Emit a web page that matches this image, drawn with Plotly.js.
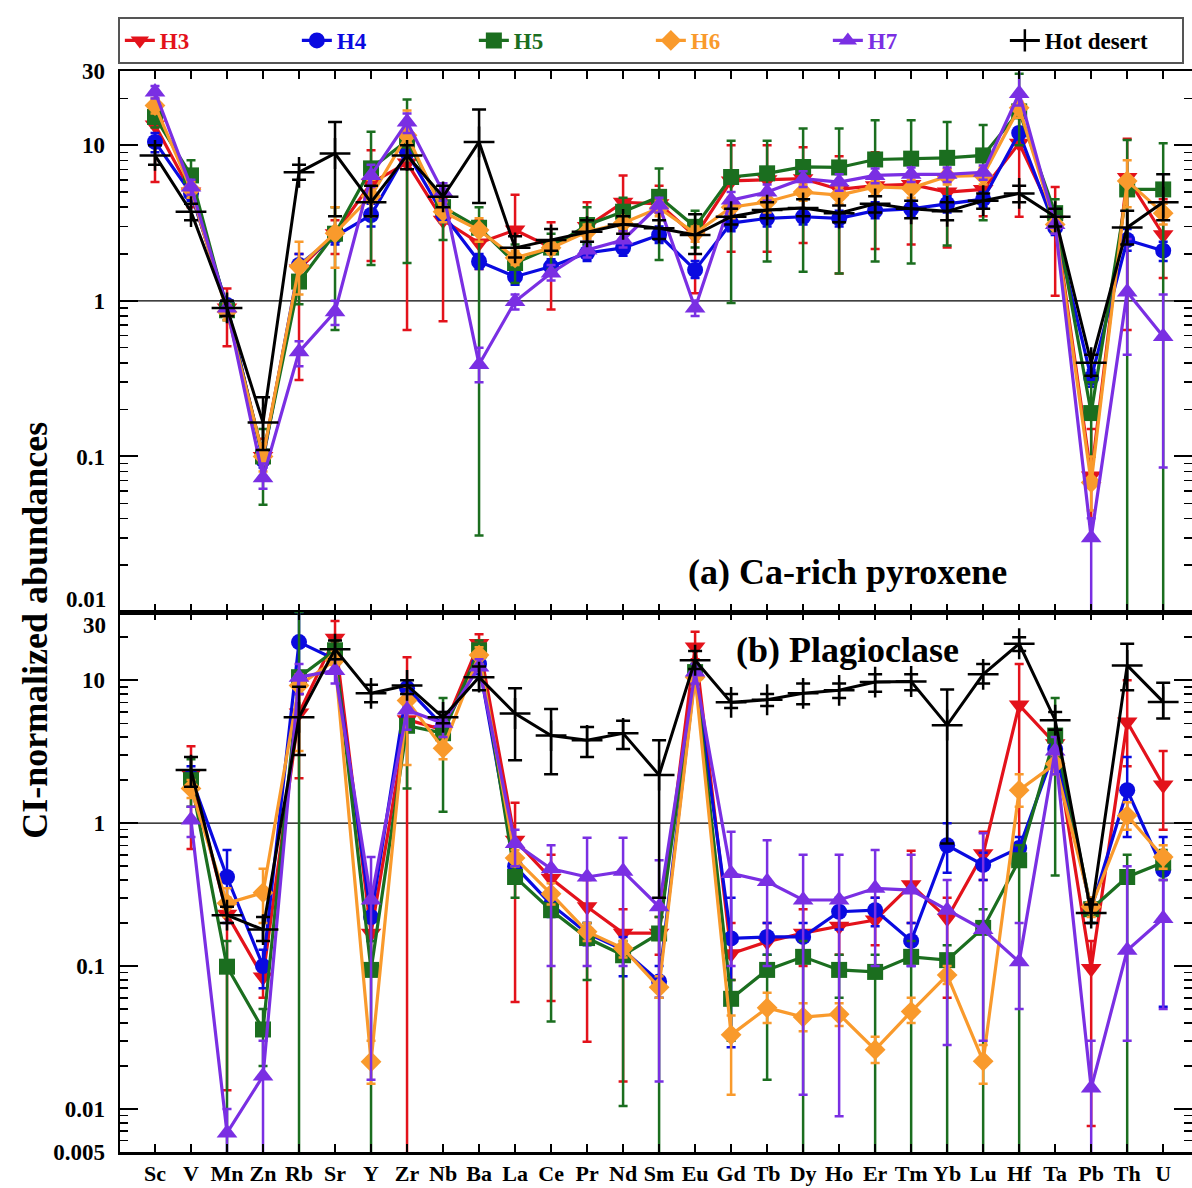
<!DOCTYPE html>
<html><head><meta charset="utf-8">
<script src="https://cdn.plot.ly/plotly-3.0.1.min.js"></script>
<style>html,body{margin:0;padding:0;background:#fff;overflow:hidden}</style>
</head><body><div id="chart" style="width:1192px;height:1188px"></div>
<script>
const categories = ['Sc','V','Mn','Zn','Rb','Sr','Y','Zr','Nb','Ba','La','Ce','Pr','Nd','Sm','Eu','Gd','Tb','Dy','Ho','Er','Tm','Yb','Lu','Hf','Ta','Pb','Th','U'];
const seriesNames = ['H3','H4','H5','H6','H7','Hot desert'];
const seriesColors = ['#e3121b','#0a0ae0','#1b6e1f','#f99a2c','#7a2fe3','#000000'];
const seriesSymbols = ['triangle-down','circle','square','diamond','triangle-up','cross-thin'];

// (a) Ca-rich pyroxene
const aH3   = [13.5,5.0,0.9,0.1,1.6,2.7,5.7,7.7,3.3,2.35,2.85,2.2,3.0,4.3,4.2,2.6,5.9,6.0,6.1,5.2,5.5,5.6,5.0,5.2,10.3,3.3,0.075,6.2,2.66];
const aH3hi = [16,6,1.2,0.13,2.0,3.3,9.3,10,4.5,3.3,4.8,3.2,4.3,6.4,5.5,3.3,10,10,9.7,8.5,9,9,8,7,16,5.4,0.15,11,4.5];
const aH3lo = [5.8,4,0.51,0.07,0.31,2.0,1.8,0.65,0.74,1.6,1.7,0.88,2.0,2.8,2.9,1.12,2.07,2.07,2.35,1.5,2.15,2.3,2.2,3.5,3.47,1.08,0.03,0.65,1.4];
const aH4   = [10.5,4.9,0.94,0.095,1.7,2.6,3.56,9.0,3.6,1.79,1.43,1.66,2.03,2.19,2.65,1.58,3.16,3.39,3.47,3.39,3.8,3.9,4.2,4.5,12.0,2.96,0.32,2.46,2.1];
const aH4hi = [12,5.5,1.0,0.11,2.0,2.9,4.2,10,4.0,2.0,1.6,1.85,2.3,2.5,3.0,1.8,3.6,3.8,3.9,3.8,4.3,4.4,4.7,5.0,13,3.3,0.36,2.9,2.4];
const aH4lo = [9,4.4,0.88,0.085,1.4,2.3,3.0,8,3.2,1.6,1.27,1.48,1.8,1.95,2.35,1.4,2.8,3.0,3.1,3.0,3.4,3.5,3.7,4.0,11,2.65,0.28,2.1,1.8];
const aH5   = [15.2,6.4,0.87,0.1,1.33,2.7,7.1,10.7,4.0,2.95,1.75,2.2,3.07,3.74,4.66,2.99,6.25,6.6,7.25,7.2,8.1,8.2,8.3,8.6,16.5,3.66,0.19,5.2,5.2];
const aH5hi = [17,8.0,1.0,0.15,1.8,4.0,12.2,19.7,5.0,4.0,2.3,2.7,4.0,4.6,7.1,3.8,10.7,10.7,12.8,12.8,14.5,14.5,14.1,13.5,28.8,4.5,0.3,10.8,10.3];
const aH5lo = [13,5.0,0.75,0.049,0.95,0.65,1.7,1.75,2.46,0.031,1.3,1.6,2.3,2.9,1.83,2.2,0.97,1.79,1.54,1.5,1.79,1.74,2.27,3.3,10,2.8,0.1,0.0001,0.0001];
const aH6   = [18.0,5.2,0.85,0.1,1.66,2.72,4.7,11.6,3.74,2.85,1.89,2.19,2.78,3.16,3.95,2.72,4.0,4.33,5.0,4.78,5.4,5.3,6.3,6.4,17.4,3.1,0.068,5.9,3.66];
const aH6hi = [20,5.8,0.95,0.12,2.4,4.0,6.0,16.7,4.3,3.4,2.1,2.4,3.1,3.5,4.4,3.0,4.6,5.0,5.6,5.4,6.0,6.0,7.0,7.2,19,3.5,0.1,8,4.2];
const aH6lo = [16,4.6,0.75,0.08,1.1,1.63,3.5,8,3.2,2.4,1.7,2.0,2.5,2.8,3.5,2.4,3.4,3.7,4.4,4.2,4.8,4.6,5.6,5.6,15,2.7,0.045,4,3.1];
const aH7   = [22,5.4,0.9,0.073,0.47,0.85,6.4,14.1,5.0,0.39,0.99,1.51,2.12,2.46,4.13,0.9,4.44,5.0,6.1,5.8,6.4,6.5,6.5,6.7,21.5,3.1,0.030,1.14,0.59];
const aH7hi = [24,6,1.0,0.09,0.55,1.0,7.5,16,5.7,0.5,1.1,1.7,2.4,2.8,4.6,1.0,5.0,5.6,6.8,6.5,7.1,7.2,7.2,7.4,32,3.5,0.04,2.5,1.1];
const aH7lo = [20,4.8,0.8,0.062,0.38,0.7,5.4,12,4.4,0.3,0.88,1.35,1.9,2.2,3.7,0.8,3.9,4.4,5.4,5.1,5.7,5.8,5.8,6.0,18,2.7,0.0001,0.45,0.085];
const aHD   = [8.6,3.74,0.9,0.165,6.7,8.85,4.3,8.6,4.66,10.5,2.19,2.46,2.78,3.1,2.93,2.65,3.47,3.83,3.95,3.66,4.2,3.9,3.76,4.4,4.9,3.47,0.40,2.96,4.3];
const aHDhi = [10,4.2,1.0,0.24,7.5,14.1,5.5,10,5.5,17,2.6,2.9,3.3,3.5,3.3,3.6,3.9,4.3,4.5,4.1,4.7,4.4,4.3,4.9,5.5,3.9,0.45,3.8,6.5];
const aHDlo = [7.5,3.3,0.8,0.11,6.0,3.5,3.5,7,4.0,4.25,1.9,2.1,2.4,2.7,2.5,2.0,3.1,3.4,3.5,3.2,3.7,3.4,3.3,3.9,4.3,3.0,0.33,2.3,3.3];

// (b) Plagioclase
const bH3   = [null,2.2,0.23,0.084,5.9,19.7,0.17,5.3,4.5,18.1,0.76,0.41,0.26,0.17,0.17,17.1,0.122,0.148,0.17,0.19,0.21,0.37,0.216,0.61,6.7,3.6,0.096,5.1,1.85];
const bH3hi = [null,3.45,0.3,0.1,8,26,0.25,14.5,5.5,21,1.39,0.6,0.4,0.25,0.22,21.8,0.2,0.2,0.25,0.25,0.3,0.64,0.3,0.87,13,4.5,0.15,10,3.2];
const bH3lo = [null,0.66,0.0135,0.06,2.06,15,0.1,0.0001,3.5,15,0.056,0.057,0.0295,0.0156,0.12,14,0.08,0.1,0.1,0.12,0.14,0.2,0.06,0.4,0.5,2.8,0.0076,2.5,0.9];
const bH4   = [null,2.1,0.42,0.10,18.5,14,0.22,8.8,4.8,13,0.5,0.27,0.17,0.13,0.078,11,0.156,0.16,0.16,0.24,0.246,0.15,0.70,0.51,0.67,3.3,0.25,1.7,0.47];
const bH4hi = [null,2.5,0.65,0.13,30,16,0.3,10,5.5,15,0.6,0.32,0.2,0.16,0.1,13,0.3,0.2,0.2,0.3,0.3,0.2,1.0,0.62,0.8,4,0.3,2.9,0.8];
const bH4lo = [null,1.7,0.2,0.07,8,12,0.15,7,4,11,0.4,0.22,0.14,0.085,0.06,9,0.027,0.12,0.12,0.18,0.19,0.1,0.45,0.4,0.5,2.7,0.2,0.8,0.052];
const bH5   = [null,2.0,0.099,0.036,10.5,16.2,0.094,4.8,4.26,16.2,0.42,0.246,0.157,0.119,0.169,11.4,0.059,0.094,0.116,0.094,0.091,0.116,0.11,0.185,0.55,4.1,0.25,0.42,0.53];
const bH5hi = [null,2.8,0.15,0.05,30,19,0.15,7,7.5,19,0.5,0.3,0.2,0.15,0.22,13,0.08,0.12,0.15,0.12,0.12,0.15,0.14,0.25,0.7,7.5,0.3,0.6,0.65];
const bH5lo = [null,1.3,0.0001,0.02,0.0001,13,0.0001,1.75,1.2,13,0.3,0.041,0.08,0.0105,0.0001,9.5,0.03,0.016,0.0001,0.06,0.0001,0.0001,0.0001,0.0001,0.0001,0.43,0.2,0.0001,0.4];
const bH6   = [null,1.75,0.275,0.326,9.2,13.8,0.0214,7.2,3.34,15,0.57,0.32,0.174,0.133,0.071,10.5,0.033,0.051,0.044,0.046,0.026,0.048,0.0865,0.0216,1.7,2.6,0.26,1.13,0.58];
const bH6hi = [null,2.0,0.35,0.48,11,16,0.03,9,4,17,0.65,0.38,0.2,0.15,0.085,12,0.045,0.065,0.055,0.055,0.032,0.06,0.1,0.028,2.2,3,0.3,1.4,0.7];
const bH6lo = [null,1.5,0.22,0.2,3.2,11.5,0.015,2.55,2.8,13,0.5,0.27,0.15,0.115,0.06,9,0.0126,0.04,0.035,0.038,0.021,0.04,0.075,0.015,1.3,2.2,0.22,0.9,0.48];
const bH7   = [null,1.05,0.0068,0.017,10.5,11.7,0.29,6.2,5.0,12.4,0.72,0.48,0.42,0.46,0.26,11.4,0.445,0.39,0.29,0.29,0.35,0.34,0.246,0.18,0.107,3.2,0.014,0.129,0.215];
const bH7hi = [null,1.3,0.01,0.03,13,14,0.58,8,6,14,0.9,0.7,0.79,0.79,0.55,13,0.87,0.76,0.6,0.6,0.65,0.6,0.4,0.85,0.2,4,0.03,0.5,0.4];
const bH7lo = [null,0.8,0.0001,0.0001,8,9.5,0.016,4.5,4,10.5,0.5,0.1,0.1,0.1,0.0156,9.5,0.1,0.1,0.0126,0.0089,0.1,0.1,0.028,0.03,0.05,2.2,0.0001,0.03,0.05];
const bHD   = [null,2.35,0.227,0.18,5.5,16.5,8.1,9.2,5.5,10.5,5.85,4.1,3.8,4.25,2.17,13.8,7.0,7.3,8.1,8.5,9.7,9.8,4.85,11,18,5.25,0.235,12.7,7.05];
const bHDhi = [null,2.9,0.26,0.22,9,19,9.3,10,6,12.5,8.8,6.3,4.7,5.2,3.8,16,8,8,9.5,9.5,11,11,8.6,13,20,6,0.27,18,9.6];
const bHDlo = [null,1.8,0.2,0.15,3,14,7,8,5,8.5,2.76,2.2,2.9,3.3,0.3,12,6.4,6.6,6.8,7.5,8.3,8.5,0.72,9.5,16,4.5,0.2,8.5,5.4];

const majorA = [0.1,1,10,30];
const majorB = [0.005,0.01,0.1,1,10];

const FONT = 'Liberation Serif, Times New Roman, serif';
const TICKFONT = {family: FONT, size: 23, color: 'black', weight: 'bold'};

function makeTrace(vals, hi, lo, i, xa, ya, showlegend) {
  const plus = vals.map((v,k) => (v == null || hi[k] == null) ? NaN : hi[k] - v);
  const minus = vals.map((v,k) => (v == null || lo[k] == null) ? NaN : v - lo[k]);
  const isHD = i === 5;
  const col = seriesColors[i];
  return {
    type: 'scatter', mode: 'lines+markers',
    x: categories, y: vals, xaxis: xa, yaxis: ya,
    name: '<span style="color:' + col + '">' + seriesNames[i] + '</span>',
    showlegend: showlegend, legendgroup: seriesNames[i],
    line: {color: col, width: isHD ? 3 : 3.2},
    marker: isHD ? {symbol: 'cross-thin', size: 22, line: {color: col, width: 2.5}}
                 : {symbol: seriesSymbols[i], size: (i===4||i===0) ? 18 : 16, color: col, line: {width: 0}},
    error_y: {type: 'data', symmetric: false, array: plus, arrayminus: minus,
              color: col, thickness: 2.5, width: isHD ? 7 : 4.5},
    hoverinfo: 'skip'
  };
}

const panelA = [[aH3,aH3hi,aH3lo],[aH4,aH4hi,aH4lo],[aH5,aH5hi,aH5lo],[aH6,aH6hi,aH6lo],[aH7,aH7hi,aH7lo],[aHD,aHDhi,aHDlo]];
const panelB = [[bH3,bH3hi,bH3lo],[bH4,bH4hi,bH4lo],[bH5,bH5hi,bH5lo],[bH6,bH6hi,bH6lo],[bH7,bH7hi,bH7lo],[bHD,bHDhi,bHDlo]];

const traces = [];
panelA.forEach((s,i) => traces.push(makeTrace(s[0], s[1], s[2], i, 'x', 'y', true)));
panelB.forEach((s,i) => traces.push(makeTrace(s[0], s[1], s[2], i, 'x2', 'y2', false)));

function minorVals(lo, hi) {
  const out = [];
  for (let e = lo; e <= hi; e++) for (let m = 2; m <= 9; m++) out.push(m * Math.pow(10, e));
  return out;
}

const xBase = {
  type: 'category', categoryorder: 'array', categoryarray: categories,
  range: [-0.972, 28.8], ticks: 'inside', ticklen: 8, tickwidth: 2, tickcolor: 'black',
  showline: true, linewidth: 2.5, linecolor: 'black', mirror: 'ticks',
  showgrid: false, zeroline: false, fixedrange: true, tickangle: 0
};
const yBase = {
  type: 'log', ticks: 'inside', ticklen: 18, tickwidth: 2, tickcolor: 'black',
  showline: true, linewidth: 2.5, linecolor: 'black', mirror: 'ticks',
  showgrid: false, zeroline: false, tickmode: 'array', ticklabelstandoff: 8,
  tickfont: TICKFONT
};

const layout = {
  width: 1192, height: 1188,
  margin: {l: 120, r: 0, t: 71, b: 36},
  paper_bgcolor: 'white', plot_bgcolor: 'white',
  font: {family: FONT, color: 'black'},
  xaxis: Object.assign({}, xBase, {anchor: 'y', showticklabels: false}),
  xaxis2: Object.assign({}, xBase, {anchor: 'y2', showticklabels: true, ticklabelstandoff: 0,
    tickfont: {family: FONT, size: 22, color: 'black', weight: 'bold'}}),
  yaxis: Object.assign({}, yBase, {domain: [0.4995, 1], anchor: 'x',
    range: [Math.log10(0.01), Math.log10(30)],
    tickvals: majorA, ticktext: majorA.map(String),
    minor: {tickmode: 'array', tickvals: minorVals(-2, 0).concat([20]), ticks: 'inside', ticklen: 8, tickwidth: 1.5, tickcolor: 'black'}}),
  yaxis2: Object.assign({}, yBase, {domain: [0, 0.4995], anchor: 'x2',
    range: [Math.log10(0.005), Math.log10(30)],
    tickvals: majorB, ticktext: majorB.map(String),
    minor: {tickmode: 'array', tickvals: minorVals(-3, 0).filter(v => v > 0.005).concat([20]), ticks: 'inside', ticklen: 8, tickwidth: 1.5, tickcolor: 'black'}}),
  showlegend: true,
  legend: {
    orientation: 'h', x: -0.002, xanchor: 'left', y: 1.05, yanchor: 'top',
    bgcolor: 'white', bordercolor: '#555', borderwidth: 2,
    font: {family: FONT, size: 23, color: 'black', weight: 'bold'},
    entrywidth: 132, entrywidthmode: 'pixels', itemwidth: 30, traceorder: 'normal'
  },
  shapes: [
    {type: 'line', xref: 'x domain', x0: 0, x1: 1, yref: 'y', y0: 1, y1: 1, line: {color: 'black', width: 1.3}, layer: 'below'},
    {type: 'line', xref: 'x2 domain', x0: 0, x1: 1, yref: 'y2', y0: 1, y1: 1, line: {color: 'black', width: 1.3}, layer: 'below'}
  ],
  annotations: [
    {text: '0.01', xref: 'paper', yref: 'y', x: -0.0112, y: -2, xanchor: 'right', yanchor: 'middle',
     yshift: 13, showarrow: false, font: TICKFONT},
    {text: '30', xref: 'paper', yref: 'y2', x: -0.0112, y: Math.log10(30), xanchor: 'right', yanchor: 'middle',
     yshift: -13, showarrow: false, font: TICKFONT},
    {text: 'CI-normalized abundances', xref: 'paper', yref: 'paper', x: -0.0793, y: 0.483,
     textangle: -90, showarrow: false, xanchor: 'center', yanchor: 'middle',
     font: {family: FONT, size: 36, color: 'black', weight: 'bold'}},
    {text: '(a) Ca-rich pyroxene', xref: 'paper', yref: 'paper', x: 0.679, y: 0.5365,
     showarrow: false, xanchor: 'center', yanchor: 'middle',
     font: {family: FONT, size: 36, color: 'black', weight: 'bold'}},
    {text: '(b) Plagioclase', xref: 'paper', yref: 'paper', x: 0.679, y: 0.4644,
     showarrow: false, xanchor: 'center', yanchor: 'middle',
     font: {family: FONT, size: 36, color: 'black', weight: 'bold'}}
  ]
};

Plotly.newPlot('chart', traces, layout, {displayModeBar: false, staticPlot: true});
</script></body></html>
